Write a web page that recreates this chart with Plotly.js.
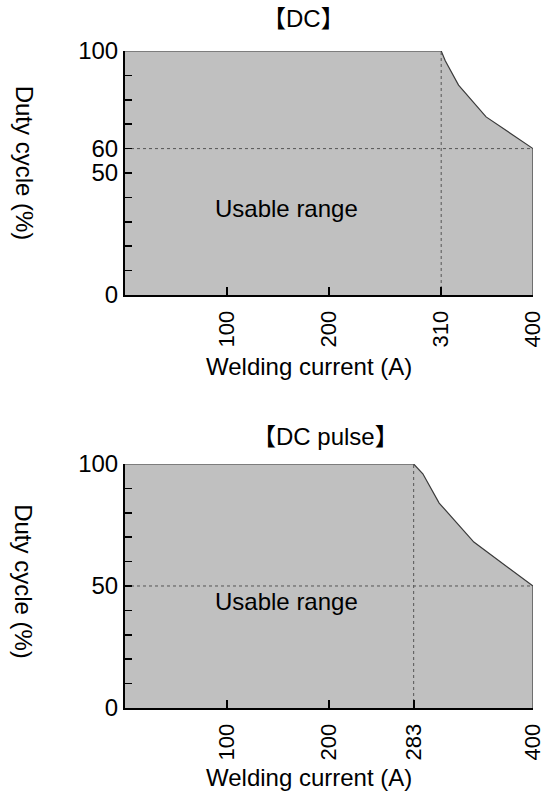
<!DOCTYPE html>
<html>
<head>
<meta charset="utf-8">
<script src="https://cdn.plot.ly/plotly-3.0.1.min.js"></script>
<style>html,body{margin:0;padding:0;background:#fff;}#chart{width:546px;height:796px;}</style>
</head>
<body>
<div id="chart"></div>
<script>
// DC duty cycle curve
const dcCurrent = [0, 310, 314, 327, 354, 400, 400];
const dcDuty    = [100, 100, 96, 86, 73, 60, 0];
const dcKneeCurrent = 310;
const dcEndDuty = 60;
const dcXTicks = [100, 200, 310, 400];
const dcYTicks = [0, 50, 60, 100];

// DC pulse duty cycle curve
const pulseCurrent = [0, 283, 292, 308, 342, 400, 400];
const pulseDuty    = [100, 100, 96, 84, 68, 50, 0];
const pulseKneeCurrent = 283;
const pulseEndDuty = 50;
const pulseXTicks = [100, 200, 283, 400];
const pulseYTicks = [0, 50, 100];

const titles = ['【DC】', '【DC pulse】'];
const xTitle = 'Welding current (A)';
const yTitle = 'Duty cycle (%)';
const areaLabel = 'Usable range';

const FONT = 'Liberation Sans, Arial, Helvetica, Noto Sans CJK JP, sans-serif';
const FS = 24;

function areaTrace(x, y, xa, ya) {
  return {x: x, y: y, xaxis: xa, yaxis: ya, type: 'scatter', mode: 'lines',
    fill: 'tozeroy', fillcolor: '#c0c0c0', line: {color: '#3a3a3a', width: 1.2},
    hoverinfo: 'skip', showlegend: false};
}
function refLines(knee, endDuty, xa, ya) {
  return [
    {x: [0, 400], y: [endDuty, endDuty], xaxis: xa, yaxis: ya, type: 'scatter', mode: 'lines',
      line: {color: '#555', width: 1, dash: 'dot'}, hoverinfo: 'skip', showlegend: false},
    {x: [knee, knee], y: [0, 100], xaxis: xa, yaxis: ya, type: 'scatter', mode: 'lines',
      line: {color: '#555', width: 1, dash: 'dot'}, hoverinfo: 'skip', showlegend: false}
  ];
}

const data = [
  areaTrace(dcCurrent, dcDuty, 'x', 'y'),
  ...refLines(dcKneeCurrent, dcEndDuty, 'x', 'y'),
  areaTrace(pulseCurrent, pulseDuty, 'x2', 'y2'),
  ...refLines(pulseKneeCurrent, pulseEndDuty, 'x2', 'y2')
];

function xAxis(ticks, anchor) {
  return {
    domain: [0, 1], anchor: anchor, range: [0, 400], tickmode: 'array', tickvals: ticks,
    ticktext: ticks.map(String), tickangle: -90, ticks: 'inside', ticklen: 8, tickwidth: 2,
    tickcolor: '#000', showline: true, linecolor: '#000', linewidth: 2, showgrid: false,
    zeroline: false, ticklabelstandoff: 5, tickfont: {family: FONT, size: 22, color: '#000'}, fixedrange: true
  };
}
function yAxis(ticks, anchor, domain) {
  return {
    domain: domain, anchor: anchor, range: [0, 100], tickmode: 'array', tickvals: ticks,
    ticktext: ticks.map(String), ticks: 'inside', ticklen: 7, tickwidth: 1.5, tickcolor: '#000',
    minor: {tickmode: 'linear', tick0: 0, dtick: 10, ticks: 'inside', ticklen: 7, tickwidth: 1.5, tickcolor: '#000', showgrid: false},
    showline: true, linecolor: '#000', linewidth: 2, showgrid: false, zeroline: false,
    tickfont: {family: FONT, size: FS, color: '#000'}, fixedrange: true
  };
}

const topDom = [0.6286, 1];
const botDom = [0, 0.3714];

function ann(text, x, y, xref, yref, extra) {
  return Object.assign({text: text, x: x, y: y, xref: xref, yref: yref, showarrow: false,
    font: {family: FONT, size: FS, color: '#000'}, xanchor: 'center', yanchor: 'middle'}, extra || {});
}

const layout = {
  width: 546, height: 796,
  margin: {l: 125, r: 13, t: 51, b: 88},
  paper_bgcolor: '#fff', plot_bgcolor: '#fff',
  showlegend: false,
  xaxis: xAxis(dcXTicks, 'y'),
  yaxis: yAxis(dcYTicks, 'x', topDom),
  xaxis2: xAxis(pulseXTicks, 'y2'),
  yaxis2: yAxis(pulseYTicks, 'x2', botDom),
  annotations: [
    ann(titles[0], 0.437, 1.050, 'paper', 'paper'),
    ann(titles[1], 0.492, 0.4125, 'paper', 'paper'),
    ann(xTitle, 0.452, 0.5205, 'paper', 'paper'),
    ann(xTitle, 0.452, -0.1065, 'paper', 'paper'),
    ann(yTitle, -0.2475, 0.830, 'paper', 'paper', {textangle: 90}),
    ann(yTitle, -0.2475, 0.193, 'paper', 'paper', {textangle: 90}),
    ann(areaLabel, 158, 35.5, 'x', 'y'),
    ann(areaLabel, 158, 43.5, 'x2', 'y2')
  ]
};

Plotly.newPlot('chart', data, layout, {displayModeBar: false, staticPlot: true});
</script>
</body>
</html>
